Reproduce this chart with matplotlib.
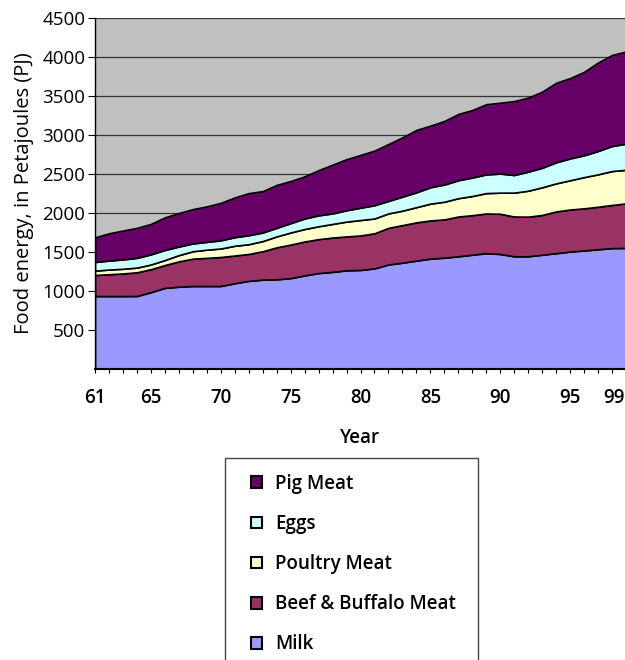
import matplotlib.pyplot as plt
from matplotlib.patches import Rectangle
from matplotlib.transforms import ScaledTranslation

# food energy by year (PJ)
years = list(range(1961, 2000))
milk = [935, 935, 935, 936, 985, 1040, 1055, 1064, 1064, 1064, 1100, 1130, 1145, 1150, 1165, 1200, 1230, 1245, 1265, 1270,
        1290, 1340, 1363, 1390, 1415, 1427, 1445, 1465, 1485, 1474, 1445, 1445, 1465, 1485, 1505, 1520, 1535, 1550, 1552]
beef = [270, 280, 290, 304, 295, 293, 325, 351, 361, 372, 355, 345, 365, 410, 430, 435, 435, 440, 435, 442,
        450, 470, 482, 490, 490, 491, 510, 507, 509, 516, 510, 508, 510, 535, 540, 540, 545, 553, 572]
poultry = [56, 60, 60, 60, 60, 64, 80, 95, 105, 109, 125, 125, 130, 140, 155, 160, 165, 175, 190, 198,
           190, 185, 185, 195, 215, 227, 235, 246, 261, 271, 306, 333, 355, 360, 375, 400, 416, 435, 430]
eggs = [111, 115, 120, 125, 130, 129, 110, 100, 100, 105, 110, 115, 110, 110, 120, 135, 140, 135, 145, 158,
        170, 160, 180, 190, 210, 220, 230, 237, 240, 244, 226, 244, 250, 270, 280, 280, 299, 321, 334]
pig = [316, 350, 370, 385, 390, 419, 430, 440, 455, 480, 510, 540, 530, 550, 540, 540, 580, 625, 655, 676,
       700, 730, 760, 800, 790, 815, 850, 865, 900, 909, 948, 950, 976, 1020, 1030, 1070, 1135, 1167, 1183]

labels = ["Milk", "Beef & Buffalo Meat", "Poultry Meat", "Eggs", "Pig Meat"]
colors = ["#9999FF", "#993366", "#FFFFCC", "#CCFFFF", "#660066"]
shown_years = [1961, 1965, 1970, 1975, 1980, 1985, 1990, 1995, 1999]

plt.rcParams['font.family'] = ['Open Sans', 'DejaVu Sans']

fig = plt.figure(figsize=(6.25, 6.6), dpi=100)
ax = fig.add_axes([95/625, 1 - 369/660, 531/625, 351/660])
ax.set_facecolor("#C0C0C0")

polys = ax.stackplot(years, milk, beef, poultry, eggs, pig, labels=labels, colors=colors,
                     edgecolor="black", linewidth=1.2, zorder=2)

ax.set_xlim(1961, 1999)
ax.set_ylim(0, 4500)
ax.set_yticks(range(500, 4501, 500))
ax.yaxis.grid(True, color="#333333", linewidth=0.9, zorder=0)
ax.set_axisbelow(True)

ax.set_xticks(years)
ax.set_xticklabels([str(y)[2:] if y in shown_years else "" for y in years],
                   fontsize=13.5, fontweight="semibold")
ax.tick_params(axis="x", direction="out", length=3, pad=11, color="black")
ax.tick_params(axis="y", direction="out", length=5, labelsize=13.5, pad=2)
# last label sits inside the figure edge, as in the original
last = ax.get_xticklabels()[-1]
last.set_transform(last.get_transform() + ScaledTranslation(-0.12, 0, fig.dpi_scale_trans))

ax.spines["top"].set_visible(False)
ax.spines["right"].set_visible(False)
ax.spines["left"].set_linewidth(1.0)
ax.spines["bottom"].set_linewidth(1.5)

ax.set_xlabel("Year", fontsize=13.5, fontweight="semibold", labelpad=14)
ax.set_ylabel("Food energy, in Petajoules (PJ)", fontsize=14.5, labelpad=6)

# legend box, cut off by the bottom of the figure like the original
fig.add_artist(Rectangle((225/625, -0.02), 253/625, 1 - 458/660 + 0.02, transform=fig.transFigure,
                         fill=False, edgecolor="#444444", linewidth=1.0))
leg = fig.legend(polys[::-1], labels[::-1], loc="upper left", bbox_to_anchor=(251/625, 1 - 474/660),
                 frameon=False, fontsize=13.5, handlelength=0.6, handleheight=0.6,
                 handletextpad=0.7, labelspacing=1.07, borderpad=0, borderaxespad=0)
for t in leg.get_texts():
    t.set_fontweight("semibold")
for h in leg.legend_handles:
    h.set_linewidth(1.5)

fig.savefig("out.png", dpi=100)
